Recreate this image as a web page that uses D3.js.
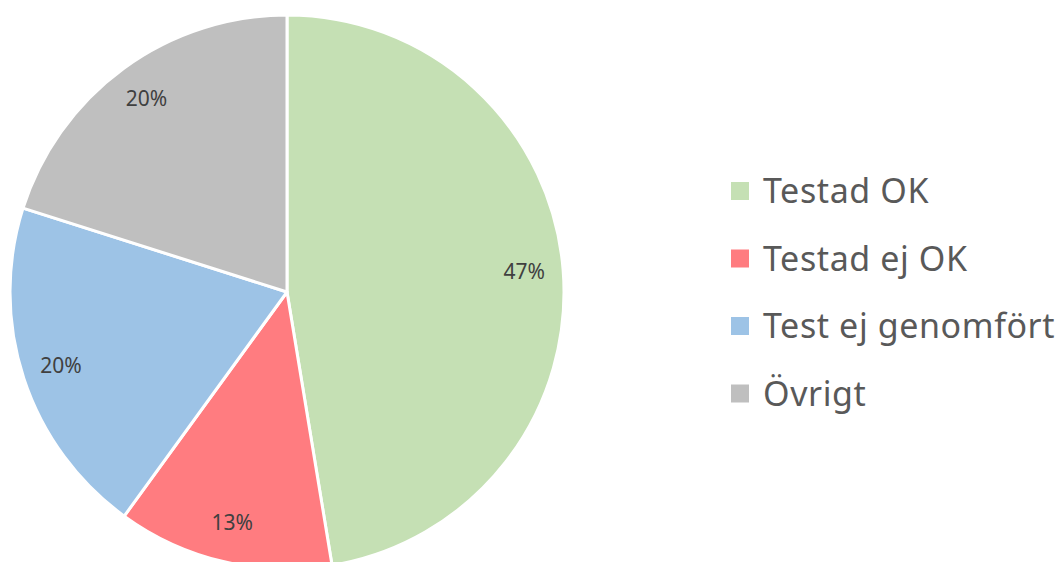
<!DOCTYPE html>
<html>
<head>
<meta charset="utf-8">
<script src="https://cdn.jsdelivr.net/npm/d3@7"></script>
<style>
  body { margin: 0; background: #fff; }
</style>
</head>
<body>
<div id="chart"></div>
<script>
// data
var categories = ["Testad OK", "Testad ej OK", "Test ej genomfört", "Övrigt"];
var values = [47.4, 12.6, 19.9, 20.1];
var colors = ["#C5E0B4", "#FF7C80", "#9DC3E6", "#BFBFBF"];

var width = 1063, height = 562;
var cx = 287, cy = 292, radius = 277;

var svg = d3.select("#chart")
  .append("svg")
    .attr("width", width)
    .attr("height", height);

var data = categories.map(function(c, i) { return {name: c, value: values[i]}; });
var total = d3.sum(values);

var pie = d3.pie()
  .sort(null)
  .value(function(d) { return d.value; });

var arc = d3.arc()
  .innerRadius(0)
  .outerRadius(radius);

var labelArc = d3.arc()
  .innerRadius(238)
  .outerRadius(238);

var color = d3.scaleOrdinal()
  .domain(categories)
  .range(colors);

var g = svg.append("g")
  .attr("transform", "translate(" + cx + "," + cy + ")");

// slices
g.selectAll("path")
  .data(pie(data))
  .enter()
  .append("path")
    .attr("d", arc)
    .attr("fill", function(d) { return color(d.data.name); })
    .attr("stroke", "#fff")
    .attr("stroke-width", 3)
    .attr("stroke-linejoin", "round");

// percent labels
g.selectAll("text.pct")
  .data(pie(data))
  .enter()
  .append("text")
    .attr("class", "pct")
    .attr("transform", function(d) { return "translate(" + labelArc.centroid(d) + ")"; })
    .attr("text-anchor", "middle")
    .attr("dy", "0.3em")
    .attr("font-family", "Noto Sans")
    .attr("font-size", "21px")
    .attr("fill", "#404040")
    .text(function(d) { return d3.format(".0%")(d.data.value / total); });

// legend
var legend = svg.append("g")
  .attr("transform", "translate(731,191)");

var row = legend.selectAll("g")
  .data(categories)
  .enter()
  .append("g")
    .attr("transform", function(d, i) { return "translate(0," + (i * 67.5) + ")"; });

row.append("rect")
  .attr("x", 0)
  .attr("y", -9)
  .attr("width", 18)
  .attr("height", 18)
  .attr("fill", function(d) { return color(d); });

row.append("text")
  .attr("x", 32)
  .attr("y", 12)
  .attr("font-family", "Noto Sans")
  .attr("font-size", "34px")
  .attr("letter-spacing", "0.6px")
  .attr("fill", "#595959")
  .text(function(d) { return d; });
</script>
</body>
</html>
